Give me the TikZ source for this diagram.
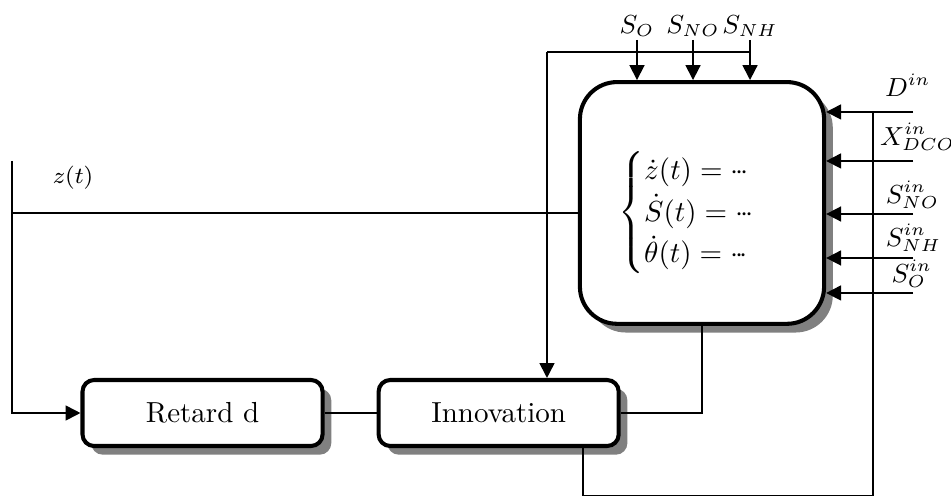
\documentclass[tikz,border=0pt]{standalone}
\usepackage{amsmath,amssymb}
\usepackage{tikz}
\usetikzlibrary{arrows.meta, positioning, shadows}

\newcommand{\tightdots}{\mathinner{{\cdot}\mkern-2mu{\cdot}\mkern-2mu{\cdot}}}

\begin{document}
\begin{tikzpicture}[
    font=\normalsize,
    >={Triangle[length=1.8mm, width=1.8mm]},
    wire/.style={line width=0.6pt},
    arr/.style={wire, ->},
    boxshadow/.style={drop shadow={shadow xshift=3pt, shadow yshift=-3pt, fill=black!50, opacity=1}},
    block/.style={
        draw,
        line width=1.4pt,
        rounded corners=4pt,
        fill=white,
        boxshadow,
        minimum width=2.91cm,
        minimum height=0.8cm
    },
    sysbox/.style={
        draw,
        line width=1.4pt,
        rounded corners=0.45cm,
        fill=white,
        boxshadow,
        minimum width=2.96cm,
        minimum height=2.93cm
    },
    lbl/.style={font=\small, inner sep=1pt},
    zlbl/.style={font=\footnotesize, inner sep=1pt}
]
\useasboundingbox (0,0) rectangle (11.527,6.036);

% Blocks
\node[block] (retard) at (2.455,1.03) {Retard d};
\node[block, right=0.63cm of retard] (inno) {Innovation};
\node[sysbox] (sys) at (8.509,3.576) {};
\node (eqs) at ([yshift=-1.2mm]sys.center) {\def\arraystretch{1.27}$\begin{cases}
    \dot{z}(t) = \tightdots\\
    \dot{S}(t) = \tightdots\\
    \dot{\theta}(t) = \tightdots
\end{cases}$};

% Input points
\coordinate (ztop) at (0.145,4.085);
\coordinate (zsplit) at (0.145,3.455);
\coordinate (so) at (7.721,5.552);
\coordinate (sno) at (8.4,5.552);
\coordinate (snh) at (9.091,5.552);
\coordinate (tap) at (6.63,5.406);
\coordinate (din) at (11.067,4.679);
\coordinate (xin) at (11.067,4.085);
\coordinate (snoin) at (11.067,3.442);
\coordinate (snhin) at (11.067,2.909);
\coordinate (soin) at (11.067,2.485);
\coordinate (rbus) at (10.582,0.03);
\coordinate (ibot) at (7.067,0.03);

% Labels
\node[zlbl] (zlab) at (0.885,3.879) {$z(t)$};
\node[lbl, above=0pt of so] (solab) {$S_O$};
\node[lbl, above=0pt of sno] (snolab) {$S_{NO}$};
\node[lbl, above=0pt of snh] (snhlab) {$S_{NH}$};
\node[lbl, anchor=west, inner sep=0pt] (dinlab) at (10.72,5.006) {$D^{in}$};
\node[lbl, anchor=west, inner sep=0pt] (xinlab) at (10.66,4.376) {$X^{in}_{DCO}$};
\node[lbl, anchor=west, inner sep=0pt] (snoinlab) at (10.73,3.673) {$S^{in}_{NO}$};
\node[lbl, anchor=west, inner sep=0pt] (snhinlab) at (10.73,3.152) {$S^{in}_{NH}$};
\node[lbl, anchor=west, inner sep=0pt] (soinlab) at (10.80,2.715) {$S^{in}_{O}$};

% Arrows
\draw[arr] (ztop) |- (retard.west);
\draw[wire] (zsplit) -- (zsplit -| sys.west);
\draw[wire] (retard) -- (inno);

\draw[arr] (so) -- (so |- sys.north);
\draw[arr] (sno) -- (sno |- sys.north);
\draw[arr] (snh) -- (snh |- sys.north);
\draw[wire] (tap -| snh) -- (tap);
\draw[arr] (tap) -- (tap |- inno.north);

\draw[arr] (din) -- (din -| sys.east);
\draw[arr] (xin) -- (xin -| sys.east);
\draw[arr] (snoin) -- (snoin -| sys.east);
\draw[arr] (snhin) -- (snhin -| sys.east);
\draw[arr] (soin) -- (soin -| sys.east);

\draw[wire] (sys.south) |- (inno.east);
\draw[wire] (din -| rbus) -- (rbus) -- (ibot) -- (ibot |- inno.south);

\end{tikzpicture}
\end{document}
